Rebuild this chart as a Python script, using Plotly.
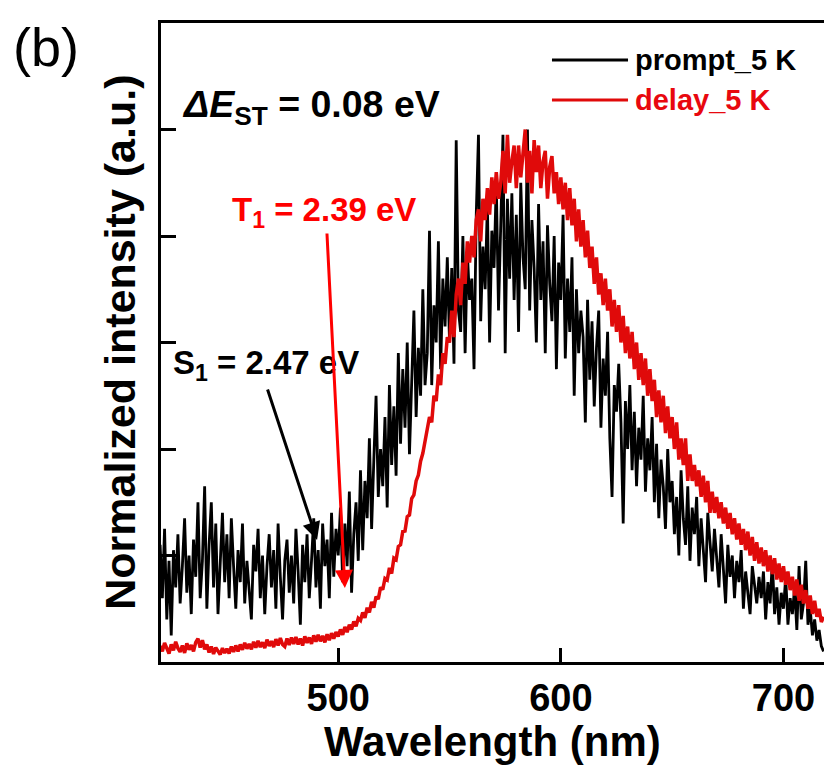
import plotly.graph_objects as go

# Wavelength grid (nm), 1 nm steps, 420..718
wavelength = list(range(420, 719))

# prompt_5 K (black)
prompt_5K = [
    0.22, 0.12, 0.25, 0.08, 0.19, 0.05, 0.21, 0.14, 0.24, 0.11,
    0.18, 0.27, 0.13, 0.20, 0.09, 0.23, 0.16, 0.30, 0.12, 0.19,
    0.33, 0.10, 0.22, 0.30, 0.14, 0.26, 0.09, 0.20, 0.28, 0.15,
    0.24, 0.12, 0.27, 0.18, 0.10, 0.21, 0.15, 0.26, 0.11, 0.19,
    0.13, 0.08, 0.22, 0.17, 0.25, 0.12, 0.20, 0.09, 0.18, 0.24,
    0.14, 0.21, 0.10, 0.26, 0.16, 0.08, 0.19, 0.23, 0.13, 0.20,
    0.11, 0.25, 0.17, 0.07, 0.22, 0.15, 0.24, 0.12, 0.19, 0.27,
    0.14, 0.21, 0.10, 0.26, 0.18, 0.23, 0.12, 0.28, 0.16, 0.25,
    0.20, 0.29, 0.15, 0.26, 0.18, 0.32, 0.13, 0.24, 0.30, 0.19,
    0.36, 0.21, 0.34, 0.27, 0.42, 0.25, 0.38, 0.50, 0.31, 0.40,
    0.33, 0.46, 0.29, 0.52, 0.37, 0.48, 0.35, 0.58, 0.41, 0.55,
    0.44, 0.60, 0.39, 0.53, 0.66, 0.46, 0.59, 0.50, 0.70, 0.52,
    0.58, 0.81, 0.52, 0.67, 0.60, 0.79, 0.55, 0.72, 0.63, 0.76,
    0.60, 0.74, 0.56, 0.98, 0.66, 0.62, 0.80, 0.58, 0.77, 0.68,
    0.72, 0.55, 0.84, 0.99, 0.64, 0.78, 0.70, 0.86, 0.60, 0.81,
    0.74, 0.90, 0.66, 0.82, 0.99, 0.58, 0.87, 0.72, 0.88, 0.68,
    0.84, 0.62, 0.90, 0.76, 0.70, 1.00, 0.66, 0.83, 0.74, 0.60,
    0.86, 0.68, 0.79, 0.58, 0.82, 0.71, 0.64, 0.80, 0.55, 0.75,
    0.68, 0.84, 0.57, 0.72, 0.62, 0.76, 0.50, 0.70, 0.58, 0.66,
    0.61, 0.45, 0.68, 0.53, 0.64, 0.48, 0.59, 0.66, 0.44, 0.57,
    0.50, 0.62, 0.42, 0.31, 0.52, 0.47, 0.56, 0.45, 0.26, 0.49,
    0.40, 0.52, 0.36, 0.47, 0.33, 0.44, 0.38, 0.50, 0.32, 0.42,
    0.36, 0.46, 0.30, 0.41, 0.27, 0.38, 0.33, 0.25, 0.40, 0.30,
    0.34, 0.24, 0.31, 0.20, 0.36, 0.27, 0.22, 0.33, 0.19, 0.29,
    0.24, 0.31, 0.18, 0.27, 0.21, 0.15, 0.28, 0.22, 0.17, 0.25,
    0.20, 0.14, 0.24, 0.18, 0.11, 0.22, 0.16, 0.20, 0.12, 0.19,
    0.15, 0.21, 0.10, 0.17, 0.13, 0.09, 0.18, 0.14, 0.11, 0.16,
    0.12, 0.17, 0.08, 0.15, 0.11, 0.19, 0.09, 0.14, 0.07, 0.13,
    0.10, 0.16, 0.07, 0.12, 0.09, 0.14, 0.06, 0.18, 0.08, 0.11,
    0.19, 0.07, 0.10, 0.05, 0.08, 0.04, 0.06, 0.03, 0.02,
]

# delay_5 K (red)
delay_5K = [
    0.030, 0.020, 0.036, 0.024, 0.016, 0.033, 0.022, 0.038, 0.026, 0.019,
    0.031, 0.017, 0.035, 0.023, 0.032, 0.020, 0.037, 0.044, 0.027, 0.041,
    0.024, 0.033, 0.018, 0.029, 0.015, 0.027, 0.019, 0.014, 0.026, 0.017,
    0.025, 0.016, 0.029, 0.019, 0.031, 0.020, 0.033, 0.023, 0.036, 0.025,
    0.034, 0.024, 0.038, 0.027, 0.040, 0.028, 0.037, 0.026, 0.042, 0.030,
    0.039, 0.028, 0.043, 0.031, 0.045, 0.033, 0.029, 0.044, 0.032, 0.046,
    0.034, 0.047, 0.033, 0.044, 0.031, 0.048, 0.036, 0.046, 0.034, 0.050,
    0.038, 0.051, 0.039, 0.049, 0.037, 0.052, 0.041, 0.054, 0.044, 0.056,
    0.048, 0.061, 0.051, 0.066, 0.056, 0.070, 0.061, 0.076, 0.067, 0.082,
    0.078, 0.093, 0.083, 0.102, 0.093, 0.113, 0.102, 0.123, 0.118, 0.140,
    0.136, 0.157, 0.154, 0.177, 0.166, 0.195, 0.192, 0.217, 0.220, 0.245,
    0.246, 0.273, 0.276, 0.307, 0.314, 0.340, 0.351, 0.377, 0.392, 0.415,
    0.430, 0.460, 0.450, 0.500, 0.490, 0.540, 0.520, 0.580, 0.560, 0.610,
    0.600, 0.660, 0.610, 0.690, 0.720, 0.670, 0.750, 0.710, 0.790, 0.750,
    0.80, 0.76, 0.83, 0.85, 0.79, 0.87, 0.83, 0.89, 0.84, 0.91,
    0.86, 0.92, 0.87, 0.90, 0.96, 0.88, 0.99, 0.90, 0.94, 0.97,
    0.89, 0.97, 0.91, 0.95, 1.00, 0.90, 0.96, 0.88, 0.98, 0.92,
    0.97, 0.89, 0.94, 0.96, 0.87, 0.93, 0.95, 0.88, 0.92, 0.86,
    0.91, 0.85, 0.90, 0.83, 0.89, 0.82, 0.87, 0.79, 0.85, 0.78,
    0.83, 0.76, 0.81, 0.74, 0.78, 0.71, 0.76, 0.69, 0.73, 0.67,
    0.72, 0.66, 0.70, 0.63, 0.68, 0.62, 0.67, 0.60, 0.65, 0.58,
    0.63, 0.57, 0.62, 0.55, 0.60, 0.53, 0.58, 0.52, 0.57, 0.50,
    0.55, 0.49, 0.53, 0.46, 0.51, 0.45, 0.50, 0.43, 0.48, 0.42,
    0.46, 0.40, 0.45, 0.38, 0.42, 0.37, 0.42, 0.34, 0.39, 0.34,
    0.37, 0.33, 0.36, 0.31, 0.35, 0.30, 0.34, 0.28, 0.32, 0.28,
    0.31, 0.27, 0.30, 0.26, 0.29, 0.25, 0.28, 0.24, 0.27, 0.23,
    0.26, 0.22, 0.25, 0.21, 0.245, 0.20, 0.235, 0.19, 0.225, 0.185,
    0.215, 0.18, 0.21, 0.17, 0.20, 0.165, 0.195, 0.155, 0.185, 0.15,
    0.18, 0.145, 0.17, 0.135, 0.16, 0.125, 0.155, 0.115, 0.145, 0.11,
    0.135, 0.10, 0.125, 0.09, 0.115, 0.085, 0.10, 0.075, 0.085,
]

x_ticks = [500, 600, 700]
x_tick_labels = ["500", "600", "700"]
y_ticks = [0.2, 0.4, 0.6, 0.8, 1.0]

series_names = ["prompt_5 K", "delay_5 K"]
S1_label = "S<sub>1</sub> = 2.47 eV"
T1_label = "T<sub>1</sub> = 2.39 eV"
dEST_label = "<i>ΔE</i><sub>ST</sub> = 0.08 eV"
S1_point = (490.5, 0.229)
T1_point = (503.0, 0.139)

FONT = "Liberation Sans, Arial, sans-serif"
BLACK = "#000000"
RED_LINE = "#e00a0a"
RED_TEXT = "#ff0000"

fig = go.Figure()
fig.add_trace(go.Scatter(x=wavelength, y=prompt_5K, mode="lines",
                         line=dict(color=BLACK, width=2.8), name=series_names[0],
                         showlegend=False))
fig.add_trace(go.Scatter(x=wavelength, y=delay_5K, mode="lines",
                         line=dict(color=RED_LINE, width=3.5), name=series_names[1],
                         showlegend=False))

fig.update_layout(
    width=824, height=769,
    margin=dict(l=161, r=0, t=23, b=107, pad=0),
    paper_bgcolor="white", plot_bgcolor="white",
    font=dict(family=FONT, color="black"),
)
fig.update_xaxes(range=[420.4, 718.2], tickvals=x_ticks, ticktext=x_tick_labels,
                 ticks="inside", ticklen=14, tickwidth=3, tickcolor="black",
                 showline=True, linewidth=3, linecolor="black", mirror=True,
                 showgrid=False, zeroline=False,
                 tickfont=dict(family=FONT, size=38, color="black", weight="bold"))
fig.update_yaxes(range=[0, 1.2], tickvals=y_ticks, showticklabels=False,
                 ticks="inside", ticklen=15, tickwidth=3, tickcolor="black",
                 showline=True, linewidth=3, linecolor="black", mirror=False,
                 showgrid=False, zeroline=False)

ann = []
# axis titles
ann.append(dict(text="<b>Wavelength (nm)</b>", xref="paper", yref="paper",
                x=0.5, y=-0.124, xanchor="center", yanchor="middle", showarrow=False,
                font=dict(family=FONT, size=42, color="black")))
ann.append(dict(text="<b>Normalized intensity (a.u.)</b>", xref="paper", yref="paper",
                x=-0.063, y=0.5, xanchor="center", yanchor="middle", showarrow=False,
                textangle=-90, font=dict(family=FONT, size=43, color="black")))
# panel label
ann.append(dict(text="(b)", xref="paper", yref="paper", x=-0.174, y=0.962,
                xanchor="center", yanchor="middle", showarrow=False,
                font=dict(family=FONT, size=54, color="black")))
# ΔE_ST
ann.append(dict(text="<b>" + dEST_label + "</b>", xref="paper", yref="paper",
                x=0.0287, y=0.8685, xanchor="left", yanchor="middle", showarrow=False,
                font=dict(family=FONT, size=37.5, color="black")))
# T1 and S1 labels
ann.append(dict(text="<b>" + T1_label + "</b>", xref="paper", yref="paper",
                x=0.2459, y=0.704, xanchor="center", yanchor="middle", showarrow=False,
                font=dict(family=FONT, size=33, color=RED_TEXT)))
ann.append(dict(text="<b>" + S1_label + "</b>", xref="paper", yref="paper",
                x=0.159, y=0.4648, xanchor="center", yanchor="middle", showarrow=False,
                font=dict(family=FONT, size=33, color="black")))
# arrows
ann.append(dict(text="", x=T1_point[0], y=T1_point[1], xref="x", yref="y",
                ax=-18, ay=-356, showarrow=True, arrowhead=2, arrowsize=1.2,
                arrowwidth=3, arrowcolor=RED_TEXT, standoff=0))
ann.append(dict(text="", x=S1_point[0], y=S1_point[1], xref="x", yref="y",
                ax=-50, ay=-152, showarrow=True, arrowhead=2, arrowsize=1.2,
                arrowwidth=3, arrowcolor="black", standoff=0))
# legend (manual)
leg_y = [0.942, 0.8795]
leg_colors = [BLACK, RED_LINE]
leg_text_colors = [BLACK, "#e8080f"]
shapes = []
for name, yy, c, tc in zip(series_names, leg_y, leg_colors, leg_text_colors):
    shapes.append(dict(type="line", xref="paper", yref="paper", x0=0.5897, x1=0.7044,
                       y0=yy, y1=yy, line=dict(color=c, width=3)))
    ann.append(dict(text="<b>" + name + "</b>", xref="paper", yref="paper",
                    x=0.712, y=yy, xanchor="left", yanchor="middle", showarrow=False,
                    font=dict(family=FONT, size=29, color=tc)))

fig.update_layout(annotations=ann, shapes=shapes)
fig.write_html("out.html")
